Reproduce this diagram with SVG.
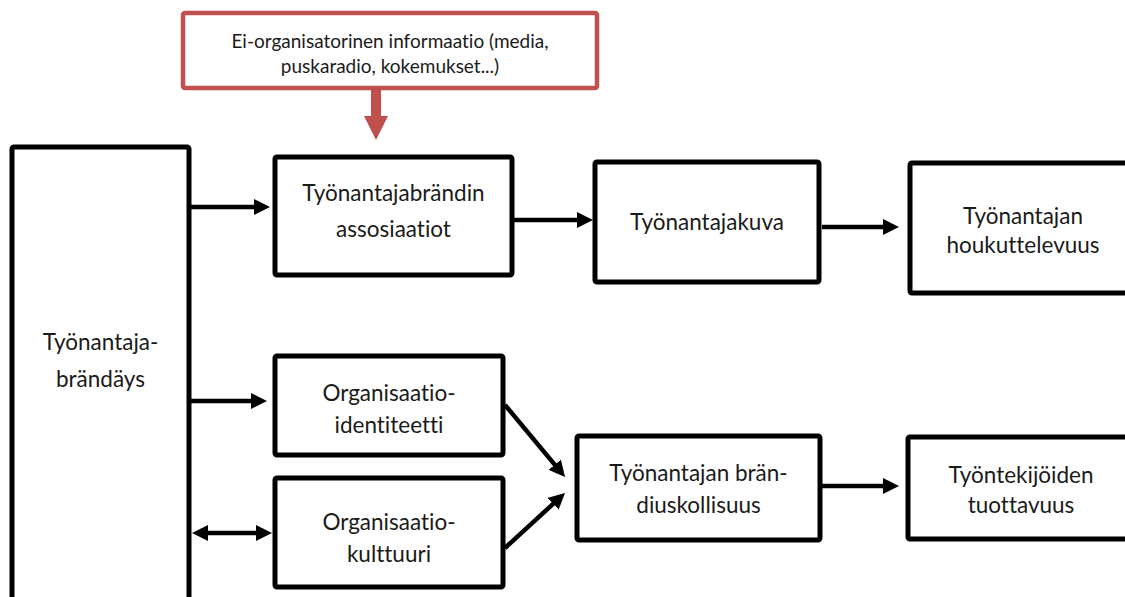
<svg xmlns="http://www.w3.org/2000/svg" width="1125" height="597" viewBox="0 0 1125 597">
<style>
.box{fill:#fff;stroke:#000;stroke-width:5}
.red{fill:#fff;stroke:#c0504d;stroke-width:4.5}
.t{font-family:Lato,"Liberation Sans",sans-serif;font-size:22.5px;fill:#1a1a1a;text-anchor:middle;font-variant-ligatures:none}
.ts{font-family:Lato,"Liberation Sans",sans-serif;font-size:19px;fill:#1a1a1a;text-anchor:middle;font-variant-ligatures:none}
.c{stroke:#000;stroke-width:4.5;fill:none;marker-end:url(#ah)}
</style>
<defs>
<marker id="ah" markerUnits="userSpaceOnUse" markerWidth="16" markerHeight="16" refX="8" refY="8" orient="auto-start-reverse" viewBox="0 0 16 16">
<path d="M0,0 L16,8 L0,16 z" fill="#000"/>
</marker>
</defs>
<rect width="1125" height="597" fill="#fff"/>
<g id="node-info">
<rect class="red" x="183" y="13" width="414" height="75" rx="2"/>
<text class="ts" x="390" y="48">Ei-organisatorinen informaatio (media,</text>
<text class="ts" x="390" y="73">puskaradio, kokemukset...)</text>
<path d="M371,90 L381,90 L381,116 L388,116 L376,140 L364,116 L371,116 z" fill="#c0504d"/>
</g>
<g id="node-brandays">
<rect class="box" x="12" y="147" width="177" height="470" rx="2"/>
<text class="t" x="100.5" y="350">Työnantaja-</text>
<text class="t" x="100.5" y="387">brändäys</text>
</g>
<g id="node-assosiaatiot">
<rect class="box" x="275" y="157" width="237" height="118" rx="2"/>
<text class="t" x="393.5" y="201">Työnantajabrändin</text>
<text class="t" x="393.5" y="237">assosiaatiot</text>
</g>
<g id="node-kuva">
<rect class="box" x="595" y="162" width="224" height="120" rx="2"/>
<text class="t" x="707" y="230">Työnantajakuva</text>
</g>
<g id="node-houkuttelevuus">
<rect class="box" x="910" y="163" width="226" height="130" rx="2"/>
<text class="t" x="1023" y="224">Työnantajan</text>
<text class="t" x="1023" y="253">houkuttelevuus</text>
</g>
<g id="node-identiteetti">
<rect class="box" x="275" y="356" width="228" height="99" rx="2"/>
<text class="t" x="389" y="401">Organisaatio-</text>
<text class="t" x="389" y="433">identiteetti</text>
</g>
<g id="node-kulttuuri">
<rect class="box" x="275" y="478" width="228" height="109" rx="2"/>
<text class="t" x="389" y="530">Organisaatio-</text>
<text class="t" x="389" y="562">kulttuuri</text>
</g>
<g id="node-uskollisuus">
<rect class="box" x="577" y="436" width="243" height="104" rx="2"/>
<text class="t" x="698.5" y="481">Työnantajan brän-</text>
<text class="t" x="698.5" y="513">diuskollisuus</text>
</g>
<g id="node-tuottavuus">
<rect class="box" x="908" y="437" width="226" height="102" rx="2"/>
<text class="t" x="1021" y="483">Työntekijöiden</text>
<text class="t" x="1021" y="513">tuottavuus</text>
</g>
<g id="connectors">
<line class="c" x1="191" y1="207" x2="262" y2="207"/>
<line class="c" x1="191" y1="401" x2="259" y2="401"/>
<line class="c" x1="200" y1="533" x2="264" y2="533" marker-start="url(#ah)"/>
<line class="c" x1="514" y1="220" x2="585" y2="220"/>
<line class="c" x1="822" y1="227" x2="891" y2="227"/>
<line class="c" x1="505" y1="405" x2="559.9" y2="470.9"/>
<line class="c" x1="505" y1="548" x2="559.1" y2="498.4"/>
<line class="c" x1="822" y1="486" x2="891" y2="486"/>
</g>
</svg>
